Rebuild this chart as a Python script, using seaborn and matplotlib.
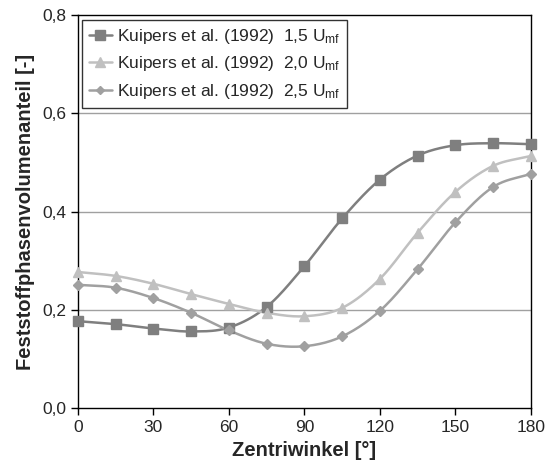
import numpy as np
import pandas as pd
import matplotlib
matplotlib.use('Agg')
import matplotlib.pyplot as plt
import seaborn as sns
from matplotlib.ticker import FuncFormatter

# Data
winkel = [0, 15, 30, 45, 60, 75, 90, 105, 120, 135, 150, 165, 180]
anteil_15 = [0.177, 0.171, 0.162, 0.156, 0.164, 0.206, 0.289, 0.386, 0.465, 0.514, 0.535, 0.539, 0.537]
anteil_20 = [0.277, 0.269, 0.253, 0.232, 0.212, 0.194, 0.187, 0.204, 0.263, 0.357, 0.440, 0.493, 0.513]
anteil_25 = [0.251, 0.245, 0.224, 0.194, 0.158, 0.131, 0.126, 0.146, 0.198, 0.283, 0.378, 0.450, 0.477]

labels = ['Kuipers et al. (1992)  1,5 U$_{\\mathrm{mf}}$',
          'Kuipers et al. (1992)  2,0 U$_{\\mathrm{mf}}$',
          'Kuipers et al. (1992)  2,5 U$_{\\mathrm{mf}}$']
colors = ['#7f7f7f', '#c0c0c0', '#a0a0a0']
markers = ['s', '^', 'D']
msizes = [7.5, 7.5, 5.5]


# Excel-style smoothed line (Catmull-Rom) for drawing the curve
def smooth(x, y, n=20):
    x = np.asarray(x, float)
    y = np.asarray(y, float)
    px = np.concatenate([[2 * x[0] - x[1]], x, [2 * x[-1] - x[-2]]])
    py = np.concatenate([[2 * y[0] - y[1]], y, [2 * y[-1] - y[-2]]])
    xs, ys = [], []
    t = np.linspace(0, 1, n, endpoint=False)
    for i in range(1, len(px) - 2):
        for p, out in ((px, xs), (py, ys)):
            p0, p1, p2, p3 = p[i - 1], p[i], p[i + 1], p[i + 2]
            out.extend(0.5 * ((2 * p1) + (-p0 + p2) * t
                              + (2 * p0 - 5 * p1 + 4 * p2 - p3) * t ** 2
                              + (-p0 + 3 * p1 - 3 * p2 + p3) * t ** 3))
    xs.append(x[-1])
    ys.append(y[-1])
    return np.array(xs), np.array(ys)


sns.set_style("white")
plt.rcParams['font.family'] = ['Liberation Sans', 'DejaVu Sans']
plt.rcParams['mathtext.fontset'] = 'custom'
plt.rcParams['mathtext.rm'] = 'Liberation Sans'
plt.rcParams['mathtext.it'] = 'Liberation Sans'

fig = plt.figure(figsize=(5.49, 4.67), dpi=100)
ax = fig.add_axes([0.142, 0.126, 0.825, 0.842])

for y in [0.2, 0.4, 0.6]:
    ax.axhline(y, color='#a0a0a0', lw=1, zorder=0)

for vals, lab, c, m, ms in zip([anteil_15, anteil_20, anteil_25], labels, colors, markers, msizes):
    sx, sy = smooth(winkel, vals)
    sns.lineplot(x=sx, y=sy, ax=ax, color=c, lw=1.8, sort=False, zorder=2)
    ax.plot(winkel, vals, linestyle='none', marker=m, ms=ms, color=c, zorder=3, clip_on=False)
    ax.plot([], [], color=c, lw=1.8, marker=m, ms=ms - 1, label=lab)

ax.set_xlim(0, 180)
ax.set_ylim(0, 0.8)
ax.set_xticks(range(0, 181, 30))
ax.set_yticks([0, 0.2, 0.4, 0.6, 0.8])
ax.yaxis.set_major_formatter(FuncFormatter(lambda v, p: f'{v:.1f}'.replace('.', ',')))
ax.tick_params(direction='out', length=5, width=1, labelsize=12.5, color='black',
               bottom=True, left=True)
for s in ax.spines.values():
    s.set_color('black')
    s.set_linewidth(1)

ax.set_xlabel('Zentriwinkel [°]', fontsize=14.5, fontweight='bold', labelpad=4)
ax.set_ylabel('Feststoffphasenvolumenanteil [-]', fontsize=14.5, fontweight='bold', labelpad=5)

leg = ax.legend(loc='upper left', bbox_to_anchor=(0.009, 0.988), borderaxespad=0,
                fontsize=12.5, frameon=True, fancybox=False, edgecolor='black',
                handlelength=1.3, borderpad=0.4, labelspacing=0.5, handletextpad=0.3)
leg.get_frame().set_linewidth(1)

fig.savefig('out.png', dpi=100)
